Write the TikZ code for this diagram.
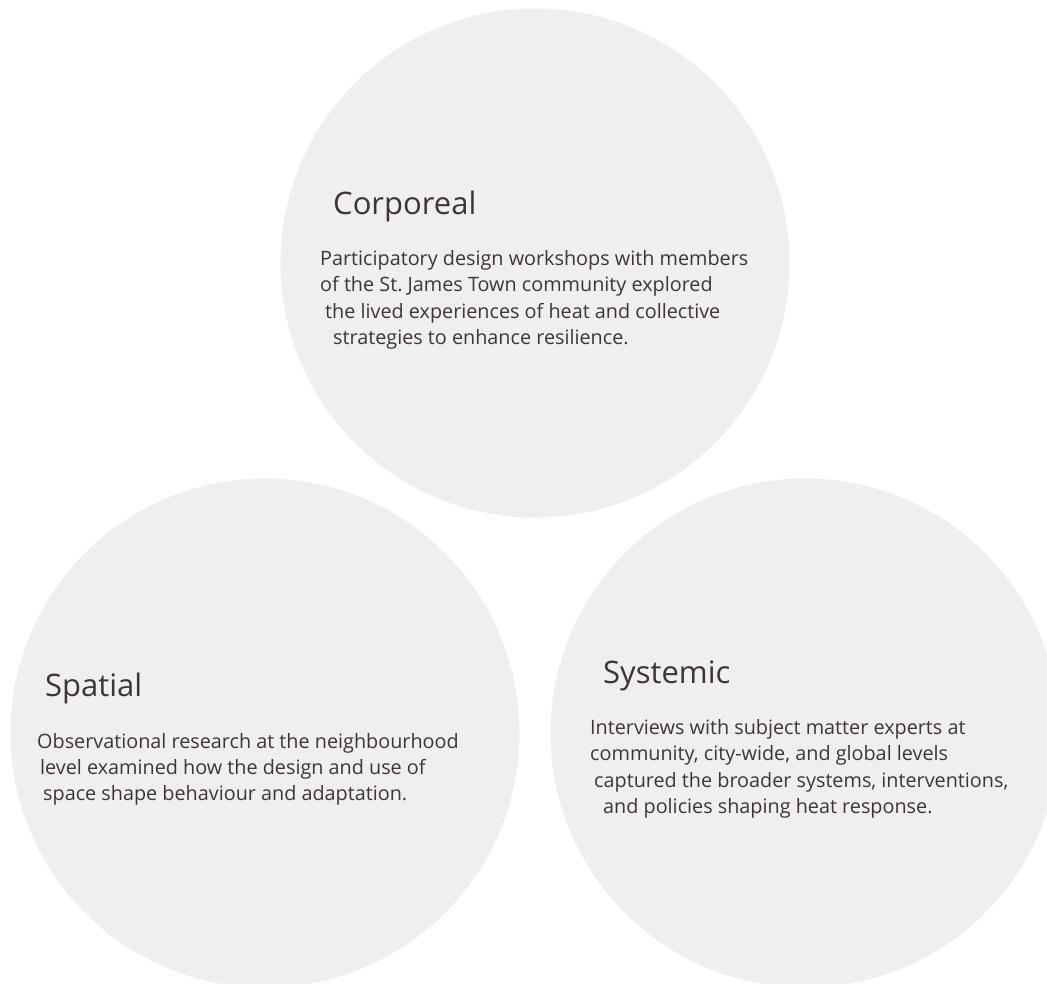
\documentclass[tikz,border=0pt]{standalone}
\usepackage{fontspec}
\setmainfont{Open Sans}
\frenchspacing
\definecolor{discfill}{HTML}{F0EFED}
\definecolor{inktext}{HTML}{3E3636}
\begin{document}
\begin{tikzpicture}[x=1pt,y=-1pt,
  disc/.style={circle, fill=discfill, draw=none, minimum size=509pt, inner sep=0pt},
  heading/.style={anchor=base west, inner sep=0pt, text=inktext, font=\fontsize{31}{37}\selectfont},
  bodyline/.style={anchor=base west, inner sep=0pt, text=inktext, font=\fontsize{19.8}{26}\selectfont}]
\useasboundingbox (0,0) rectangle (1047,983);

% three discs
\node[disc] (top) at (535,263) {};
\node[disc] (left) at (265,733) {};
\node[disc] (right) at (805,733) {};

% Corporeal
\node[heading] (corpT) at (333,214) {Corporeal};
\node[bodyline] (corp1) at (320,265) {Participatory design workshops with members};
\node[bodyline] (corp2) at (320,291.5) {of the St. James Town community explored};
\node[bodyline] (corp3) at (325,318) {the lived experiences of heat and collective};
\node[bodyline] (corp4) at (333,344.5) {strategies to enhance resilience.};

% Spatial
\node[heading] (spatT) at (45,696) {Spatial};
\node[bodyline] (spat1) at (37,748) {Observational research at the neighbourhood};
\node[bodyline] (spat2) at (40,774) {level examined how the design and use of};
\node[bodyline] (spat3) at (43,800.5) {space shape behaviour and adaptation.};

% Systemic
\node[heading] (sysT) at (603,683) {Systemic};
\node[bodyline] (sys1) at (590,734) {Interviews with subject matter experts at};
\node[bodyline] (sys2) at (590,760.5) {community, city-wide, and global levels};
\node[bodyline] (sys3) at (594,787) {captured the broader systems, interventions,};
\node[bodyline] (sys4) at (603,813.5) {and policies shaping heat response.};
\end{tikzpicture}
\end{document}
